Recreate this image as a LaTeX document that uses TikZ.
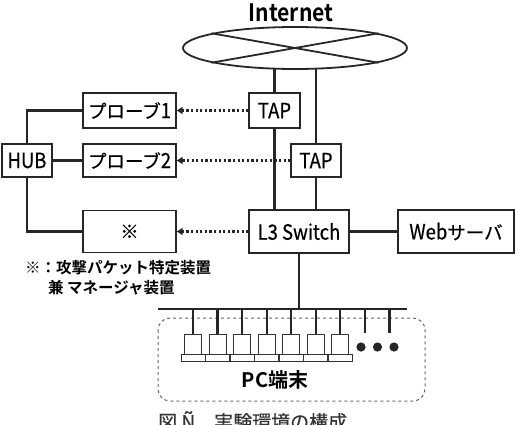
\documentclass[tikz,border=0pt]{standalone}
\usepackage{fontspec}
\setmainfont{Noto Sans CJK JP}
\newfontfamily\jp[FakeBold=0.5]{Noto Sans CJK JP}
\newfontfamily\lat[FakeBold=0.5,FakeStretch=0.88]{Noto Sans CJK JP}
\newfontfamily\jpb{Noto Sans CJK JP Bold}
\newfontfamily\latb[FakeStretch=0.88]{Noto Sans CJK JP Bold}
\usetikzlibrary{shapes.geometric,arrows.meta}
\tikzset{
  box/.style={draw=black!85,line width=1.4pt,inner sep=0pt,font=\jp\fontsize{18.5}{18.5}\selectfont},
  conn/.style={draw=black!85,line width=2.2pt},
  dotarrow/.style={draw=black!85,line width=2.4pt,dash pattern=on 2.2pt off 2.4pt,-{Triangle[length=6pt,width=7pt]}},
  pc/.style={draw=black!80,line width=1pt,fill=white},
}
\newcommand{\latx}[1]{{\lat\fontsize{21}{21}\selectfont #1}}
\begin{document}
\begin{tikzpicture}[x=1pt,y=-1pt]
\useasboundingbox (0,0) rectangle (515,424);
% Internet
\node[font=\latb\fontsize{24}{24}\selectfont] (inetlabel) at (291,13) {Internet};
\node[ellipse,draw=black!85,line width=1.8pt,minimum width=224,minimum height=42,inner sep=0pt] (inet) at (295,48) {};
\draw[black!85,line width=1.8pt] (inet.170) -- (inet.-10);
\draw[black!85,line width=1.8pt] (inet.190) -- (inet.10);
% boxes
\node[box,minimum width=51,minimum height=35] (tap1) at (274.5,110.5) {\latx{TAP}};
\node[box,minimum width=50,minimum height=33] (tap2) at (316,160.5) {\latx{TAP}};
\node[box,minimum width=100,minimum height=43] (l3) at (299,231.5) {\latx{L3 Switch}};
\node[box,minimum width=116,minimum height=43] (web) at (456,231.5) {\latx{Web}サーバ};
\node[box,minimum width=93,minimum height=35] (p1) at (129.5,110.5) {プローブ\latx{1}};
\node[box,minimum width=93,minimum height=33] (p2) at (129.5,160.5) {プローブ\latx{2}};
\node[box,minimum width=50,minimum height=33] (hub) at (27,160.5) {\latx{HUB}};
\node[box,minimum width=93,minimum height=42] (mark) at (129.5,231.5) {※};
% connectors
\coordinate (t1top) at (274.5,68.6);
\coordinate (t2top) at (316,67.5);
\draw[conn] (tap1.north) -- (t1top);
\draw[conn] (tap2.north) -- (t2top);
\draw[conn] (tap1.south) -- (tap1.south |- l3.north);
\draw[conn] (tap2.south) -- (tap2.south |- l3.north);
\draw[conn] (l3.east) -- (web.west);
\draw[conn] (hub.north) |- (p1.west);
\draw[conn] (hub.east) -- (p2.west);
\draw[conn] (hub.south) |- (mark.west);
\draw[dotarrow] (tap1.west) -- (p1.east);
\draw[dotarrow] (tap2.west) -- (p2.east);
\draw[dotarrow] (l3.west) -- (mark.east);
% note
\node[anchor=west,inner sep=0pt,font=\jpb\fontsize{15.5}{15.5}\selectfont] (note1) at (25,267.5) {※：攻撃パケット特定装置};
\node[anchor=west,inner sep=0pt,font=\jpb\fontsize{15.5}{15.5}\selectfont] (note2) at (48,287.5) {兼 マネージャ装置};
% LAN
\coordinate (busL) at (158,309);
\coordinate (busR) at (407,309);
\draw[conn,line width=2.6pt] (busL) -- (busR);
\draw[conn] (l3.south) -- (l3.south |- busL);
\draw[black!60,line width=1pt,dashed,rounded corners=12pt] (158,318) rectangle (425,401);
\foreach \i in {0,...,6} {
  \pgfmathsetmacro{\xx}{193+24.55*\i}
  \draw[conn] (\xx,309) -- (\xx,334);
  \draw[pc] (\xx-8.5,334) rectangle (\xx+8.5,354);
  \draw[pc] (\xx-12,354) rectangle (\xx+12,361);
}
\foreach \i in {7,8} {
  \pgfmathsetmacro{\xx}{193+24.55*\i}
  \draw[conn] (\xx,309) -- (\xx,333);
}
\foreach \xx in {361,377.5,394} \fill[black!85] (\xx,347) circle (4.6);
\node[font=\jpb\fontsize{20}{20}\selectfont] (pclabel) at (275,380) {PC端末};
% caption (cut off)
\node[anchor=base west,inner sep=0pt,font=\jp\fontsize{19}{19}\selectfont,black!80] (cap) at (158,429) {図 Ñ　実験環境の構成};
\end{tikzpicture}
\end{document}
